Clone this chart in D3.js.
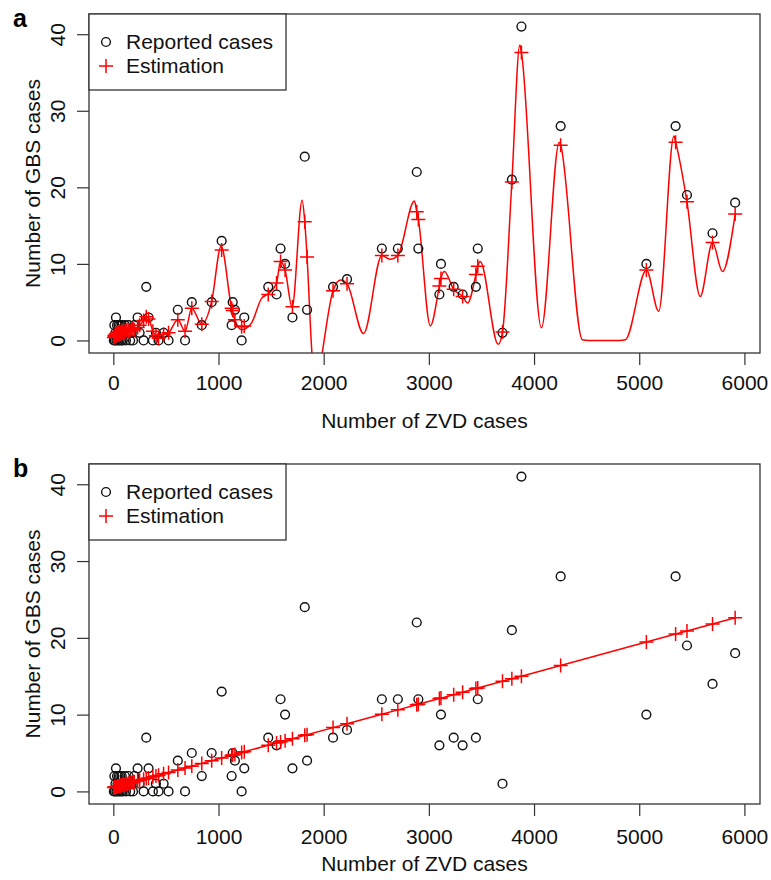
<!DOCTYPE html>
<html>
<head>
<meta charset="utf-8">
<script src="https://cdn.jsdelivr.net/npm/d3@7/dist/d3.min.js"></script>
<style>
  body { margin: 0; background: #fff; }
  text { font-family: "Liberation Sans", Arial, Helvetica, sans-serif; }
</style>
</head>
<body>
<div id="chart"></div>
<script>
// number of ZVD cases (x) for every observation
var zvd = [5, 10, 15, 20, 25, 30, 35, 40, 45, 50, 55, 60, 65, 70, 75, 80, 85, 90, 100, 110,
  120, 130, 145, 160, 175, 187, 200, 231, 250, 288, 313, 335, 376, 405, 430, 478, 525, 613, 682, 746,
  841, 935, 1030, 1125, 1135, 1156, 1220, 1245, 1473, 1552, 1590, 1633, 1703, 1820, 1842, 2089, 2222, 2553, 2705, 2885,
  2900, 3100, 3115, 3236, 3321, 3447, 3465, 3700, 3789, 3880, 4253, 5068, 5346, 5454, 5697, 5912];

// reported GBS cases
var gbs = [0, 2, 0, 1, 3, 0, 2, 1, 0, 2, 1, 0, 2, 1, 0, 2, 1, 0, 1, 2,
  0, 1, 2, 0, 1, 0, 2, 3, 1, 0, 7, 3, 0, 1, 0, 1, 0, 4, 0, 5,
  2, 5, 13, 2, 5, 4, 0, 3, 7, 6, 12, 10, 3, 24, 4, 7, 8, 12, 12, 22,
  12, 6, 10, 7, 6, 7, 12, 1, 21, 41, 28, 10, 28, 19, 14, 18];

// estimation, panel a (nonlinear model)
var estA = [0.4, 0.6, 0.5, 0.8, 0.7, 0.9, 0.6, 1.0, 0.8, 1.1, 0.7, 1.2, 0.9, 1.0, 0.8, 1.2, 1.1, 1.0, 1.3, 1.0,
  1.2, 1.4, 1.2, 1.3, 1.6, 1.5, 1.4, 1.7, 2.0, 2.6, 3.1, 2.8, 1.2, 0.6, 0.3, 0.8, 1.0, 2.7, 1.2, 4.2,
  2.1, 5.1, 11.8, 4.2, 3.9, 2.7, 1.8, 1.9, 6.0, 7.5, 10.3, 9.2, 4.4, 15.5, 10.9, 6.5, 7.4, 11.1, 11.1, 16.8,
  15.8, 7.1, 8.1, 6.7, 5.75, 8.6, 9.7, 1.1, 20.7, 37.6, 25.5, 9.2, 25.9, 18.1, 12.8, 16.5];

// estimation, panel b (linear model)
var estB = [0.52, 0.54, 0.56, 0.57, 0.59, 0.61, 0.63, 0.65, 0.67, 0.69, 0.71, 0.72, 0.74, 0.76, 0.78, 0.8, 0.82, 0.84, 0.87, 0.91,
  0.95, 0.99, 1.04, 1.1, 1.15, 1.2, 1.25, 1.36, 1.44, 1.58, 1.67, 1.75, 1.91, 2.01, 2.11, 2.29, 2.46, 2.79, 3.05, 3.29,
  3.65, 4.0, 4.35, 4.71, 4.74, 4.82, 5.06, 5.16, 6.01, 6.3, 6.45, 6.61, 6.87, 7.31, 7.39, 8.31, 8.81, 10.05, 10.62, 11.29,
  11.35, 12.09, 12.15, 12.6, 12.92, 13.39, 13.46, 14.34, 14.67, 15.01, 16.41, 19.45, 20.49, 20.9, 21.81, 22.61];

// fitted curve of panel a
var curveX = [5, 60, 120, 200, 250, 288, 320, 340, 376, 405, 430, 478, 525, 613, 682, 746, 841, 935, 1025, 1125,
  1156, 1220, 1315, 1409, 1473, 1552, 1590, 1633, 1700, 1795, 1820, 1842, 1890, 1935, 1985, 2089, 2160, 2222, 2379, 2553,
  2630, 2705, 2863, 2885, 2900, 3014, 3100, 3115, 3147, 3236, 3321, 3369, 3447, 3465, 3488, 3659, 3700, 3789, 3865, 3880,
  4070, 4240, 4253, 4459, 4520, 4810, 4869, 5068, 5185, 5330, 5346, 5454, 5580, 5697, 5791, 5912];
var curveY = [0.4, 0.8, 1.0, 1.4, 2.0, 2.6, 3.1, 2.8, 1.2, 0.6, 0.3, 0.8, 1.0, 2.7, 1.2, 4.2, 2.1, 5.1, 12.3, 4.2,
  2.7, 1.4, 2.3, 5.5, 6.1, 7.5, 10.3, 9.2, 4.3, 18.3, 15.5, 10.9, -2, -6, -1.7, 6.5, 7.9, 7.4, 0.9, 11.1,
  10.6, 11.1, 18.2, 16.8, 15.8, 1.9, 7.1, 8.1, 9.0, 6.7, 5.75, 4.9, 8.6, 9.7, 10.3, -0.5, 1.1, 20.7, 38.6, 37.6,
  1.65, 25.9, 25.5, 0.1, 0, 0, 0.1, 9.2, 3.8, 26.7, 25.9, 18.1, 5.75, 12.8, 9.0, 16.5];

var xTicks = [0, 1000, 2000, 3000, 4000, 5000, 6000];
var yTicks = [0, 10, 20, 30, 40];
var legendLabels = ["Reported cases", "Estimation"];

var svgWidth = 771;
var svgHeight = 880;

var svg = d3.select("#chart")
  .append("svg")
  .attr("width", svgWidth)
  .attr("height", svgHeight);

var boxLeft = 89;
var boxRight = 760;

var panels = [
  { label: "a", top: 14, bottom: 353, labelPad: 10, titleY: 428, est: estA, curve: true },
  { label: "b", top: 464, bottom: 804, labelPad: 13, titleY: 871, est: estB, curve: false }
];

// R style 4% padding
var xPad = (d3.max(zvd) - d3.min(zvd)) * 0.04;
var yPad = (d3.max(gbs) - 0) * 0.04;

var xScale = d3.scaleLinear()
  .domain([d3.min(zvd) - xPad, d3.max(zvd) + xPad])
  .range([boxLeft, boxRight]);

var circleR = 4.4;
var crossPath = "M-7,0H7M0,-7V7";
var fontSize = "21px";

panels.forEach(function (p, i) {
  var yScale = d3.scaleLinear()
    .domain([0 - yPad, d3.max(gbs) + yPad])
    .range([p.bottom, p.top]);

  var g = svg.append("g");

  var clipId = "clip" + i;
  svg.append("clipPath").attr("id", clipId)
    .append("rect")
    .attr("x", boxLeft).attr("y", p.top)
    .attr("width", boxRight - boxLeft).attr("height", p.bottom - p.top);

  // x axis
  var xAxis = d3.axisBottom(xScale)
    .tickValues(xTicks)
    .tickFormat(d3.format("d"))
    .tickSize(12)
    .tickPadding(p.labelPad);
  var gx = g.append("g")
    .attr("transform", `translate(0, ${p.bottom})`)
    .call(xAxis);
  gx.select(".domain").remove();
  gx.selectAll("line").attr("stroke", "#333").attr("stroke-width", 1.2);
  gx.selectAll("text")
    .attr("font-size", fontSize)
    .attr("fill", "#111")
    .attr("font-family", "Liberation Sans, Arial, sans-serif");

  // y axis
  var yAxis = d3.axisLeft(yScale).tickValues(yTicks).tickSize(12);
  var gy = g.append("g")
    .attr("transform", `translate(${boxLeft}, 0)`)
    .call(yAxis);
  gy.select(".domain").remove();
  gy.selectAll("line").attr("stroke", "#333").attr("stroke-width", 1.2);
  gy.selectAll("text")
    .attr("x", null).attr("dy", null)
    .attr("text-anchor", "middle")
    .attr("transform", "translate(-24, 0) rotate(-90)")
    .attr("font-size", fontSize)
    .attr("fill", "#111")
    .attr("font-family", "Liberation Sans, Arial, sans-serif");

  // titles
  g.append("text")
    .attr("x", (boxLeft + boxRight) / 2)
    .attr("y", p.titleY)
    .attr("text-anchor", "middle")
    .attr("font-size", fontSize)
    .attr("fill", "#111")
    .text("Number of ZVD cases");

  g.append("text")
    .attr("transform", `translate(40, ${(p.top + p.bottom) / 2}) rotate(-90)`)
    .attr("text-anchor", "middle")
    .attr("font-size", fontSize)
    .attr("fill", "#111")
    .text("Number of GBS cases");

  g.append("text")
    .attr("x", 13)
    .attr("y", p.top + 13)
    .attr("font-size", "25px")
    .attr("font-weight", "bold")
    .attr("fill", "#000")
    .text(p.label);

  var plot = g.append("g").attr("clip-path", `url(#${clipId})`);

  // estimation line
  var lineData;
  var line;
  if (p.curve) {
    lineData = curveX.map((x, j) => [x, curveY[j]]);
    line = d3.line().x(d => xScale(d[0])).y(d => yScale(d[1])).curve(d3.curveMonotoneX);
  } else {
    lineData = zvd.map((x, j) => [x, p.est[j]]);
    line = d3.line().x(d => xScale(d[0])).y(d => yScale(d[1]));
  }
  plot.append("path")
    .datum(lineData)
    .attr("d", line)
    .attr("fill", "none")
    .attr("stroke", "#ff0000")
    .attr("stroke-width", 1.5);

  // reported cases
  plot.selectAll("circle")
    .data(zvd)
    .enter()
    .append("circle")
    .attr("cx", d => xScale(d))
    .attr("cy", (d, j) => yScale(gbs[j]))
    .attr("r", circleR)
    .attr("fill", "none")
    .attr("stroke", "#111")
    .attr("stroke-width", 1.4);

  // estimation crosses
  plot.selectAll("path.cross")
    .data(zvd)
    .enter()
    .append("path")
    .attr("class", "cross")
    .attr("transform", (d, j) => `translate(${xScale(d)}, ${yScale(p.est[j])})`)
    .attr("d", crossPath)
    .attr("stroke", "#ff0000")
    .attr("stroke-width", 1.5);

  // box
  g.append("rect")
    .attr("x", boxLeft).attr("y", p.top)
    .attr("width", boxRight - boxLeft).attr("height", p.bottom - p.top)
    .attr("fill", "none")
    .attr("stroke", "#333")
    .attr("stroke-width", 1.3);

  // legend
  var lg = g.append("g").attr("transform", `translate(${boxLeft}, ${p.top})`);
  lg.append("rect")
    .attr("width", 197).attr("height", 76)
    .attr("fill", "#fff")
    .attr("stroke", "#333")
    .attr("stroke-width", 1.3);
  lg.append("circle")
    .attr("cx", 17).attr("cy", 28).attr("r", circleR)
    .attr("fill", "none").attr("stroke", "#111").attr("stroke-width", 1.4);
  lg.append("path")
    .attr("transform", "translate(17, 52)")
    .attr("d", crossPath)
    .attr("stroke", "#ff0000").attr("stroke-width", 1.5);
  lg.selectAll("text.leg")
    .data(legendLabels)
    .enter()
    .append("text")
    .attr("class", "leg")
    .attr("x", 37)
    .attr("y", (d, j) => 35 + j * 24)
    .attr("font-size", fontSize)
    .attr("fill", "#111")
    .text(d => d);
});
</script>
</body>
</html>
